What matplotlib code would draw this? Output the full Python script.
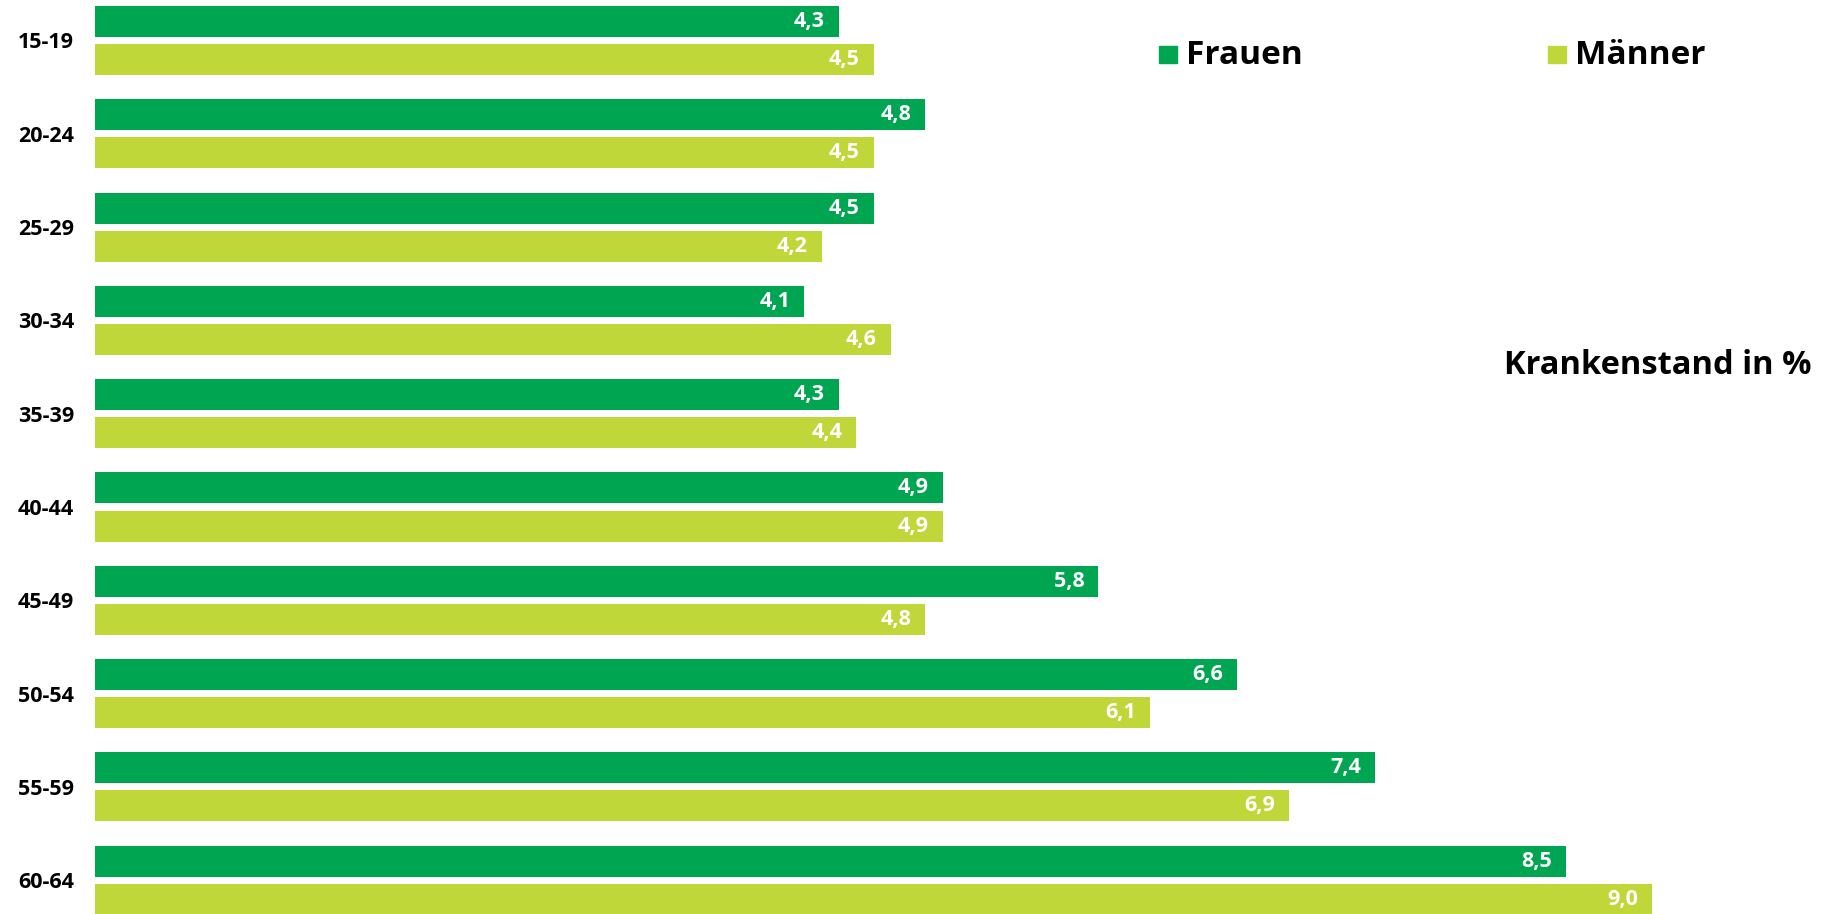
import matplotlib
matplotlib.use("Agg")
import matplotlib.pyplot as plt
from matplotlib.patches import Rectangle
import numpy as np

plt.rcParams['font.family'] = ['Open Sans', 'DejaVu Sans']

altersgruppen = ['15-19', '20-24', '25-29', '30-34', '35-39', '40-44', '45-49', '50-54', '55-59', '60-64']
frauen = [4.3, 4.8, 4.5, 4.1, 4.3, 4.9, 5.8, 6.6, 7.4, 8.5]
maenner = [4.5, 4.5, 4.2, 4.6, 4.4, 4.9, 4.8, 6.1, 6.9, 9.0]

farbe_frauen = '#00a551'
farbe_maenner = '#c0d73a'

fig = plt.figure(figsize=(18.25, 9.14), dpi=100)
ax = fig.add_axes([95 / 1825, 0, 1 - 95 / 1825, 1])

y = np.arange(len(altersgruppen))
hoehe = 0.332
versatz = 0.204

balken_f = ax.barh(y - versatz, frauen, height=hoehe, color=farbe_frauen)
balken_m = ax.barh(y + versatz, maenner, height=hoehe, color=farbe_maenner)

def beschriften(balken, werte):
    for b, w in zip(balken, werte):
        ax.text(b.get_width() - 0.08, b.get_y() + b.get_height() / 2,
                ('%.1f' % w).replace('.', ','), ha='right', va='center',
                color='white', fontsize=15.5, fontweight='bold')

beschriften(balken_f, frauen)
beschriften(balken_m, maenner)

ax.set_xlim(0, 10)
ax.set_ylim(9.362, -0.434)
ax.set_yticks(y)
ax.set_yticklabels(altersgruppen, fontsize=15.5, fontweight='bold')
ax.tick_params(axis='y', length=0, pad=15)
ax.set_xticks([])
for s in ax.spines.values():
    s.set_visible(False)

# Legende
for x0, name, farbe in [(1159, 'Frauen', farbe_frauen), (1548, 'Männer', farbe_maenner)]:
    fig.patches.append(Rectangle((x0 / 1825, 1 - 63 / 914), 18 / 1825, 17 / 914,
                                 transform=fig.transFigure, color=farbe))
    fig.text((x0 + 27) / 1825, 1 - 55 / 914, name, fontsize=24, fontweight='bold',
             va='center', ha='left')

fig.text(1812 / 1825, 1 - 365 / 914, 'Krankenstand in %', fontsize=23.5,
         fontweight='bold', ha='right', va='center')

fig.savefig('out.png', dpi=100)
